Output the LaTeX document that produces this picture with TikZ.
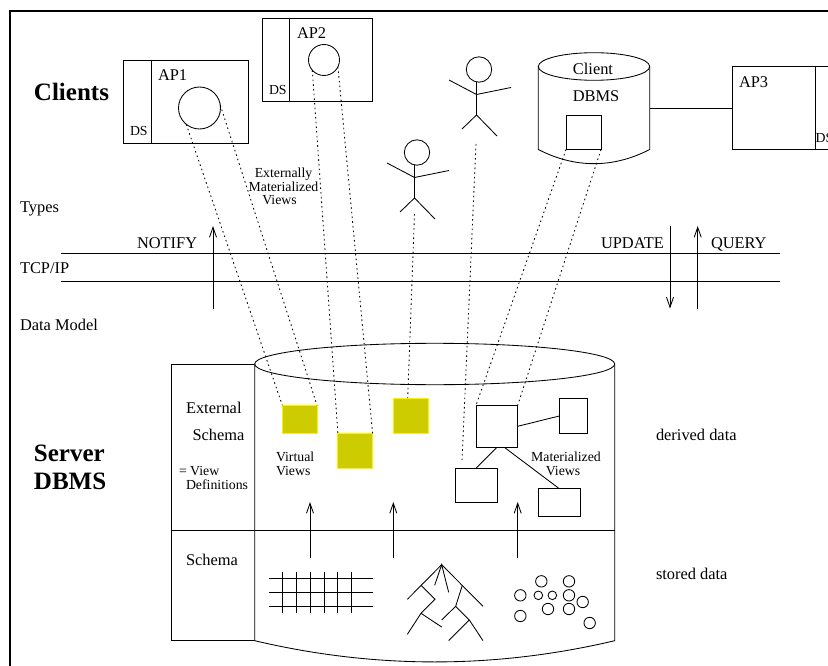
\documentclass[tikz,border=0pt]{standalone}
\usepackage{fontspec}
\setmainfont{Liberation Serif}
\usetikzlibrary{arrows.meta,shapes.geometric}
\definecolor{viewyellow}{HTML}{CCCC00}
\tikzset{
  lw/.style={line width=0.85pt},
  txt/.style={inner sep=0pt,outer sep=0pt,anchor=base west,font=\fontsize{16.4}{16.4}\selectfont},
  txtc/.style={inner sep=0pt,outer sep=0pt,anchor=base,font=\fontsize{16.4}{16.4}\selectfont},
  small/.style={font=\fontsize{13.8}{13.8}\selectfont},
  head/.style={font=\fontsize{25}{25}\selectfont\bfseries},
  rbox/.style={draw,lw,rectangle,inner sep=0pt,outer sep=0pt,anchor=north west},
  vbox/.style={rbox,draw=yellow,fill=viewyellow,minimum width=34.7pt,minimum height=#1},
  vbox/.default=28pt,
  round/.style={draw,lw,circle,inner sep=0pt,outer sep=0pt,minimum size=#1},
  dots/.style={lw,dash pattern=on 1.6pt off 3.1pt},
  arrowline/.style={lw,-{Straight Barb[length=10pt,width=7pt]}},
  plain/.style={lw}
}
\begin{document}
\begin{tikzpicture}[x=1pt,y=-1pt]
\clip (0,0) rectangle (828,666);
\fill[white] (0,0) rectangle (828,666);
% frame
\coordinate (frameA) at (9.7,666);
\coordinate (frameB) at (9.7,11);
\coordinate (frameC) at (828,11);
\draw[line width=2.2pt,line join=miter] (frameA) -- (frameB) -- (frameC);

% headings and layer labels
\node[txt,head] (clients) at (34,101) {Clients};
\node[txt,head] (server) at (34,461.7) {Server};
\node[txt,head] (dbmsh) at (34,489) {DBMS};
\node[txt] (types) at (20,212) {Types};
\node[txt] (tcp) at (20,273.5) {TCP/IP};
\node[txt] (dm) at (20,330.5) {Data Model};

% AP1
\node[rbox,minimum width=124.5pt,minimum height=83pt] (ap1) at (123.5,60) {};
\coordinate (ap1t) at (151,60);
\coordinate (ap1b) at (151,143);
\draw[plain] (ap1t) -- (ap1b);
\node[round=42pt] (c1) at (199.5,108) {};
\node[txt] (ap1l) at (158,81) {AP1};
\node[txt,small] (ds1) at (130,136) {DS};

% AP2
\node[rbox,minimum width=110pt,minimum height=83pt] (ap2) at (262,18) {};
\coordinate (ap2t) at (289.5,18);
\coordinate (ap2b) at (289.5,101);
\draw[plain] (ap2t) -- (ap2b);
\node[round=31pt] (c2) at (324,60) {};
\node[txt] (ap2l) at (297,39) {AP2};
\node[txt,small] (ds2) at (269,94.3) {DS};

% externally materialized label
\node[txtc,small] (em1) at (283.5,177.2) {Externally};
\node[txtc,small] (em2) at (283.5,191.2) {Materialized};
\node[txtc,small] (em3) at (279.5,204.8) {Views};

% stick figure 1
\node[round=25.4pt] (h1) at (479,69.5) {};
\coordinate (n1) at (476.5,94.5);
\coordinate (w1) at (449,80);
\coordinate (e1) at (511,87.5);
\coordinate (t1) at (476.5,115);
\coordinate (fl1) at (462,129);
\coordinate (fr1) at (497,136);
\coordinate (neck1) at (476.5,82);
\draw[plain] (neck1) -- (t1);
\draw[plain] (w1) -- (n1) -- (e1);
\draw[plain] (fl1) -- (t1) -- (fr1);

% stick figure 2
\node[round=25.4pt] (h2) at (417,152.5) {};
\coordinate (n2) at (414.5,177.5);
\coordinate (w2) at (387,163);
\coordinate (e2) at (449,170.5);
\coordinate (t2) at (414.5,198);
\coordinate (fl2) at (400,212);
\coordinate (fr2) at (435,219);
\coordinate (neck2) at (414.5,165);
\draw[plain] (neck2) -- (t2);
\draw[plain] (w2) -- (n2) -- (e2);
\draw[plain] (fl2) -- (t2) -- (fr2);

% client DBMS
\node[draw,lw,ellipse,inner sep=0pt,outer sep=0pt,minimum width=111.4pt,minimum height=27.6pt] (cdb) at (594,66.5) {};
\coordinate (cdbl) at (538.3,149.5);
\coordinate (cdbr) at (649.7,149.5);
\draw[plain] (cdb.west) -- (cdbl) .. controls (575,168.4) and (613,168.4) .. (cdbr) -- (cdb.east);
\node[txtc] (clientl) at (593,74.7) {Client};
\node[txtc] (cdbmsl) at (596,101.3) {DBMS};
\node[rbox,minimum width=35pt,minimum height=34.5pt] (cbox) at (566,115) {};

% AP3
\node[rbox,minimum width=110pt,minimum height=83pt] (ap3) at (732.3,66.5) {};
\coordinate (ap3t) at (815.3,66.5);
\coordinate (ap3b) at (815.3,149.5);
\coordinate (cdbm) at (649.7,108);
\draw[plain] (ap3t) -- (ap3b);
\draw[plain] (cdbm) -- (cdbm -| ap3.west);
\node[txt] (ap3l) at (739,87.3) {AP3};
\node[txt,small] (ds3) at (815.6,142.7) {DS};

% protocol lines
\coordinate (la) at (61,253);
\coordinate (lb) at (780,253);
\coordinate (lc) at (61,281);
\coordinate (ld) at (780,281);
\draw[plain] (la) -- (lb);
\draw[plain] (lc) -- (ld);
\node[txt] (notify) at (137,248) {NOTIFY};
\node[txt] (update) at (601,248) {UPDATE};
\node[txt] (query) at (711,248) {QUERY};
\coordinate (a1s) at (213,308.5);
\coordinate (a1e) at (213,226);
\coordinate (a2s) at (670,226);
\coordinate (a2e) at (670,308.5);
\coordinate (a3s) at (697.7,308.5);
\coordinate (a3e) at (697.7,226);
\draw[arrowline] (a1s) -- (a1e);
\draw[arrowline] (a2s) -- (a2e);
\draw[arrowline] (a3s) -- (a3e);

% server DBMS
\node[draw,lw,ellipse,inner sep=0pt,outer sep=0pt,minimum width=360pt,minimum height=41.4pt] (sdb) at (434.7,364) {};
\coordinate (sdbl) at (254.7,640.7);
\coordinate (sdbr) at (614.7,640.7);
\draw[plain] (sdb.west) -- (sdbl) .. controls (374.7,669) and (494.7,669) .. (sdbr) -- (sdb.east);
\coordinate (sbtl) at (171.7,640.7);
\coordinate (stl) at (171.7,364);
\draw[plain] (sdb.west) -- (stl) -- (sbtl) -- (sdbl);
\coordinate (mid1) at (171.7,530.3);
\coordinate (mid2) at (614.7,530.3);
\draw[plain] (mid1) -- (mid2);
\node[txt] (ext) at (186,413.5) {External};
\node[txt] (sch) at (192.5,440.5) {Schema};
\node[txt,small] (vd1) at (179,475.5) {= View};
\node[txt,small] (vd2) at (186,489.5) {Definitions};
\node[txt] (sch2) at (186,565.5) {Schema};
\node[txt,small] (vv1) at (276,461.8) {Virtual};
\node[txt,small] (vv2) at (276,475.5) {Views};
\node[txtc,small] (mv1) at (566,461.8) {Materialized};
\node[txtc,small] (mv2) at (563,475.5) {Views};
\node[txt] (dd) at (656,440.2) {derived data};
\node[txt] (sd) at (656,579.5) {stored data};

% virtual views
\node[vbox=28pt] (y1) at (282.3,405.3) {};
\node[vbox=34.7pt] (y2) at (337.9,433.3) {};
\node[vbox=34.7pt] (y3) at (393.3,398.7) {};

% materialized views
\node[rbox,minimum width=41.7pt,minimum height=42pt] (m0) at (476,405.3) {};
\node[rbox,minimum width=28pt,minimum height=34.6pt] (m1) at (559.3,398.7) {};
\node[rbox,minimum width=42pt,minimum height=34.7pt] (m2) at (455.3,468) {};
\node[rbox,minimum width=42pt,minimum height=27.6pt] (m3) at (538.3,488.7) {};
\draw[plain] (m0.east) -- (m1.west);
\draw[plain] (m0.south) -- (m2.north);
\coordinate (m0s) at (504.3,447.3);
\draw[plain] (m0s) -- (m3.north);

% dotted view lines
\coordinate (s1top) at (476,144);
\coordinate (s1bot) at (462,461);
\coordinate (s2top) at (414.5,214);
\coordinate (s2bot) at (407.7,398);
\draw[dots] (c1.231) -- (y1.north west);
\draw[dots] (c1.8) -- (y1.north east);
\draw[dots] (c2.221) -- (y2.north west);
\draw[dots] (c2.334) -- (y2.north east);
\draw[dots] (s2top) -- (s2bot);
\draw[dots] (s1top) -- (s1bot);
\draw[dots] (cbox.south west) -- (m0.north west);
\draw[dots] (cbox.south east) -- (m0.north east);

% arrows from stored to derived data
\coordinate (u1s) at (310,558);
\coordinate (u1e) at (310,502);
\coordinate (u2s) at (393.3,558);
\coordinate (u2e) at (393.3,502);
\coordinate (u3s) at (517.7,558);
\coordinate (u3e) at (517.7,502);
\draw[arrowline] (u1s) -- (u1e);
\draw[arrowline] (u2s) -- (u2e);
\draw[arrowline] (u3s) -- (u3e);

% grid
\foreach \yy in {578.7,592.7,606.3} \draw[plain] (268.7,\yy) -- (372.7,\yy);
\foreach \xx in {282.3,296.3,310,324,337.7,351.7} \draw[plain] (\xx,572) -- (\xx,613.3);

% tree
\begin{scope}[shift={(150,333)},x=0.33333pt,y=-0.33333pt]
\draw[plain] (772,799) -- (875,695) -- (999,820);
\draw[plain] (854,757) -- (875,695) -- (896,778);
\draw[plain] (813,757) -- (855,799) -- (813,841) -- (772,904);
\draw[plain] (813,841) -- (875,882);
\draw[plain] (937,757) -- (917,820) -- (875,861);
\draw[plain] (917,820) -- (958,861) -- (999,923);
\draw[plain] (958,861) -- (896,923);
\end{scope}

% scattered records
\begin{scope}[shift={(440,333)},x=0.33333pt,y=-0.33333pt]
\foreach \cx/\cy in {304/745,387/745,241/787,387/787,428/807,324/828,387/828,241/849,449/870}
  \draw[plain] (\cx,\cy) circle[radius=5.7pt];
\foreach \cx/\cy in {295/787,337/787}
  \draw[plain] (\cx,\cy) circle[radius=4.3pt];
\end{scope}
\end{tikzpicture}
\end{document}
